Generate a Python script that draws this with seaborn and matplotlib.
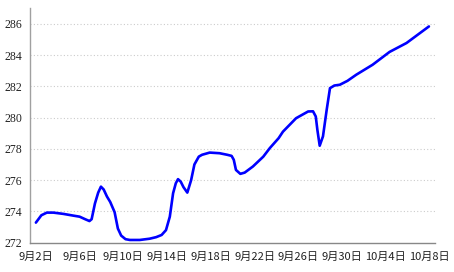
import matplotlib
matplotlib.use("Agg")
import matplotlib.pyplot as plt
import seaborn as sns
import pandas as pd

# Reading times (days since 9月2日) and values
days = [0, 0.5, 1, 1.6, 2.5, 3.4, 4.0, 4.5, 4.9, 5.1, 5.4, 5.7, 5.95, 6.2, 6.5,
        6.8, 7.2, 7.5, 7.8, 8.2, 8.6, 9.5, 10.4, 11.0, 11.5, 11.9, 12.25, 12.55,
        12.8, 13.0, 13.25, 13.5, 13.85, 14.2, 14.5, 14.9, 15.2, 15.9, 16.8, 17.5,
        17.9, 18.1, 18.3, 18.7, 19.1, 19.85, 20.8, 21.4, 22.2, 22.6, 23.8, 24.9,
        25.35, 25.6, 25.75, 25.96, 26.26, 26.6, 26.9, 27.3, 27.8, 28.5, 29.3,
        30.8, 32.35, 33.9, 35.95]
values = [273.28, 273.75, 273.92, 273.92, 273.84, 273.73, 273.66, 273.5, 273.38,
          273.5, 274.5, 275.2, 275.58, 275.4, 274.95, 274.6, 273.95, 272.9, 272.45,
          272.22, 272.17, 272.17, 272.25, 272.35, 272.49, 272.8, 273.66, 275.16,
          275.8, 276.06, 275.9, 275.55, 275.2, 276.0, 277.0, 277.5, 277.62, 277.76,
          277.72, 277.62, 277.55, 277.3, 276.65, 276.4, 276.48, 276.87, 277.5,
          278.05, 278.68, 279.1, 279.96, 280.39, 280.4, 280.07, 279.2, 278.2, 278.8,
          280.5, 281.88, 282.05, 282.1, 282.35, 282.74, 283.38, 284.2, 284.77, 285.83]

tick_days = [0, 4, 8, 12, 16, 20, 24, 28, 32, 36]
tick_labels = ["9月2日", "9月6日", "9月10日", "9月14日", "9月18日",
               "9月22日", "9月26日", "9月30日", "10月4日", "10月8日"]
y_ticks = [272, 274, 276, 278, 280, 282, 284, 286]

sns.set_style("white")
plt.rcParams['font.family'] = ['Noto Sans CJK SC', 'DejaVu Sans']

df = pd.DataFrame({"day": days, "value": values})

fig = plt.figure(figsize=(4.54, 2.72), dpi=100)
ax = fig.add_axes([0.067, 0.108, 0.891, 0.862])

sns.lineplot(data=df, x="day", y="value", ax=ax, color="#0000FF",
             linewidth=1.9, solid_capstyle="round", solid_joinstyle="round")

ax.set_xlim(-0.5, 36.5)
ax.set_ylim(272, 287)
ax.set_xlabel("")
ax.set_ylabel("")

ax.set_yticks(y_ticks)
ax.set_yticklabels([str(v) for v in y_ticks], family=['Liberation Serif'],
                   fontsize=8.5, color="#222222")
ax.set_xticks(tick_days)
ax.set_xticklabels(tick_labels, fontsize=8, color="#222222")
ax.set_xticks([d + 3.5 for d in tick_days[:-1]], minor=True)

ax.tick_params(axis="x", which="major", length=0, pad=7)
ax.tick_params(axis="x", which="minor", direction="in", length=4,
               color="#888888", width=0.8)
ax.tick_params(axis="y", which="major", length=0, pad=6)

for y in y_ticks[1:]:
    ax.axhline(y, color="#cccccc", linestyle=(0, (1, 2)), linewidth=0.8, zorder=0)

for s in ["top", "right"]:
    ax.spines[s].set_visible(False)
ax.spines["left"].set_color("#a0a0a0")
ax.spines["bottom"].set_color("#888888")
ax.spines["left"].set_linewidth(1.0)
ax.spines["bottom"].set_linewidth(1.0)

fig.savefig("out.png", dpi=100)
